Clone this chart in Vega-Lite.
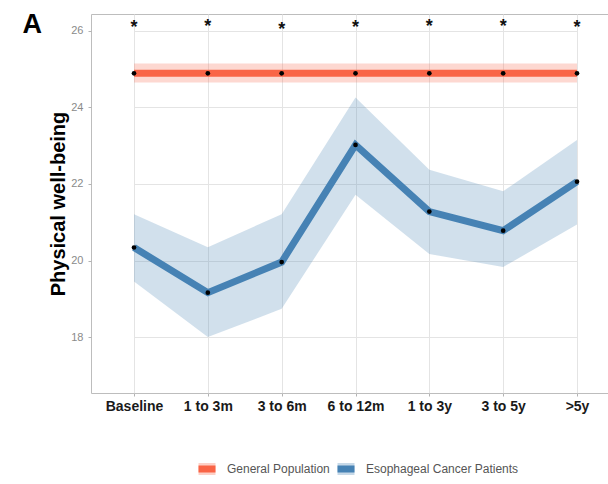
{
  "$schema": "https://vega.github.io/schema/vega-lite/v6.json",
  "width": 517,
  "height": 379,
  "autosize": "none",
  "padding": {"left": 91, "top": 14, "right": 0, "bottom": 91},
  "background": "white",
  "config": {
    "view": {"stroke": "#BDBDBD", "strokeWidth": 1},
    "font": "Liberation Sans"
  },
  "datasets": {
    "series": [
      {"group": "General Population", "time": "Baseline", "mean": 24.89, "lower": 24.65, "upper": 25.15},
      {"group": "General Population", "time": "1 to 3m", "mean": 24.89, "lower": 24.65, "upper": 25.15},
      {"group": "General Population", "time": "3 to 6m", "mean": 24.89, "lower": 24.65, "upper": 25.15},
      {"group": "General Population", "time": "6 to 12m", "mean": 24.89, "lower": 24.65, "upper": 25.15},
      {"group": "General Population", "time": "1 to 3y", "mean": 24.89, "lower": 24.65, "upper": 25.15},
      {"group": "General Population", "time": "3 to 5y", "mean": 24.89, "lower": 24.65, "upper": 25.15},
      {"group": "General Population", "time": ">5y", "mean": 24.89, "lower": 24.65, "upper": 25.15},
      {"group": "Esophageal Cancer Patients", "time": "Baseline", "mean": 20.34, "lower": 19.45, "upper": 21.21},
      {"group": "Esophageal Cancer Patients", "time": "1 to 3m", "mean": 19.16, "lower": 18.0, "upper": 20.35},
      {"group": "Esophageal Cancer Patients", "time": "3 to 6m", "mean": 19.96, "lower": 18.74, "upper": 21.21},
      {"group": "Esophageal Cancer Patients", "time": "6 to 12m", "mean": 23.02, "lower": 21.72, "upper": 24.26},
      {"group": "Esophageal Cancer Patients", "time": "1 to 3y", "mean": 21.28, "lower": 20.17, "upper": 22.37},
      {"group": "Esophageal Cancer Patients", "time": "3 to 5y", "mean": 20.78, "lower": 19.83, "upper": 21.81},
      {"group": "Esophageal Cancer Patients", "time": ">5y", "mean": 22.06, "lower": 20.94, "upper": 23.15}
    ],
    "stars": [
      {"time": "Baseline", "y": 25.95, "label": "*"},
      {"time": "1 to 3m", "y": 25.96, "label": "*"},
      {"time": "3 to 6m", "y": 25.9, "label": "*"},
      {"time": "6 to 12m", "y": 25.95, "label": "*"},
      {"time": "1 to 3y", "y": 25.96, "label": "*"},
      {"time": "3 to 5y", "y": 25.96, "label": "*"},
      {"time": ">5y", "y": 25.94, "label": "*"}
    ]
  },
  "encoding": {
    "x": {
      "field": "time", "type": "ordinal",
      "sort": ["Baseline", "1 to 3m", "3 to 6m", "6 to 12m", "1 to 3y", "3 to 5y", ">5y"],
      "scale": {"type": "point", "range": [43, 486], "padding": 0},
      "axis": {"title": "A", "titleFont": "Liberation Sans", "titleFontSize": 27, "titleFontWeight": "bold", "titleColor": "#000000", "titleAngle": 0, "titleAlign": "left", "titleBaseline": "alphabetic", "titleX": -69, "titleY": -361,
        "labelAngle": 0, "labelFont": "Liberation Sans", "labelFontWeight": "bold", "labelFontSize": 14, "labelColor": "#1A1A1A", "grid": true, "gridColor": "#E4E4E4", "gridWidth": 1, "domain": false, "tickColor": "#B3B3B3", "tickSize": 3, "labelPadding": 3}
    }
  },
  "layer": [
    {
      "data": {"name": "series"},
      "mark": {"type": "area", "fillOpacity": 0.25},
      "encoding": {
        "y": {"field": "lower", "type": "quantitative",
          "scale": {"domain": [16.54, 26.44], "nice": false, "zero": false},
          "axis": {"title": "Physical well-being", "values": [18, 20, 22, 24, 26], "titleFont": "Liberation Sans", "titleFontSize": 20, "titleFontWeight": "bold", "titleColor": "#000000", "titlePadding": 2, "labelFontSize": 11, "labelColor": "#8A8A8A", "grid": true, "gridColor": "#E4E4E4", "gridWidth": 1, "domain": false, "tickColor": "#B3B3B3", "tickSize": 3, "labelPadding": 5}},
        "y2": {"field": "upper"},
        "color": {"field": "group", "type": "nominal",
          "scale": {"domain": ["General Population", "Esophageal Cancer Patients"], "range": ["#F96446", "#4682B4"]},
          "legend": {"title": null, "orient": "none", "direction": "horizontal", "legendX": 104, "legendY": 443,
            "labelFontSize": 12, "labelColor": "#555555", "labelFont": "Liberation Sans", "labelOffset": 8, "columnPadding": -7,
            "symbolSize": 289, "symbolType": "M-1,0H1V0.7H-1V-0.7H1V0Z",
            "encode": {"symbols": {"update": {
              "fill": {"scale": "color", "field": "value"},
              "fillOpacity": {"value": 0.3},
              "stroke": {"scale": "color", "field": "value"},
              "strokeOpacity": {"value": 1},
              "strokeWidth": {"value": 7},
              "strokeDash": {"value": [17, 60]},
              "opacity": {"value": 1}
            }}}
          }}
      }
    },
    {
      "data": {"name": "series"},
      "mark": {"type": "line", "strokeWidth": 7},
      "encoding": {
        "y": {"field": "mean", "type": "quantitative"},
        "color": {"field": "group", "type": "nominal"}
      }
    },
    {
      "data": {"name": "series"},
      "mark": {"type": "point", "filled": true, "color": "#000000", "size": 22, "opacity": 1},
      "encoding": {
        "y": {"field": "mean", "type": "quantitative"},
        "detail": {"field": "group"}
      }
    },
    {
      "data": {"name": "stars"},
      "mark": {"type": "text", "font": "Liberation Sans", "fontSize": 18, "fontWeight": "bold", "color": "#111111", "baseline": "alphabetic"},
      "encoding": {
        "y": {"field": "y", "type": "quantitative"},
        "text": {"field": "label"}
      }
    }
  ]
}
